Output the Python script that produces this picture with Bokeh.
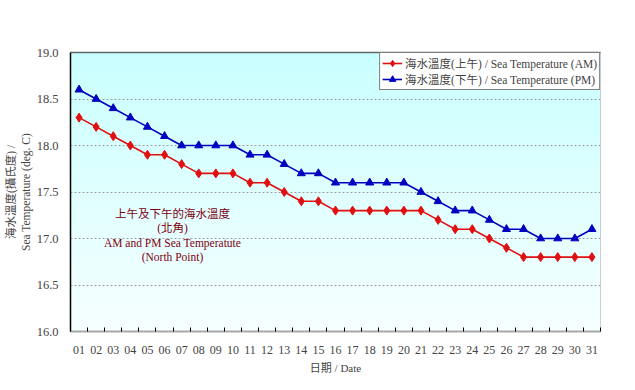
import numpy as np
from bokeh.plotting import figure
from bokeh.models import FixedTicker, Range1d, Legend, LegendItem, Label, LinearAxis
from bokeh.embed import file_html
from bokeh.resources import INLINE

days = ["01","02","03","04","05","06","07","08","09","10","11","12","13","14","15","16",
        "17","18","19","20","21","22","23","24","25","26","27","28","29","30","31"]
am_temp = [18.3, 18.2, 18.1, 18.0, 17.9, 17.9, 17.8, 17.7, 17.7, 17.7, 17.6, 17.6, 17.5, 17.4, 17.4, 17.3,
           17.3, 17.3, 17.3, 17.3, 17.3, 17.2, 17.1, 17.1, 17.0, 16.9, 16.8, 16.8, 16.8, 16.8, 16.8]
pm_temp = [18.6, 18.5, 18.4, 18.3, 18.2, 18.1, 18.0, 18.0, 18.0, 18.0, 17.9, 17.9, 17.8, 17.7, 17.7, 17.6,
           17.6, 17.6, 17.6, 17.6, 17.5, 17.4, 17.3, 17.3, 17.2, 17.1, 17.1, 17.0, 17.0, 17.0, 17.1]
y_ticks = [16.0, 16.5, 17.0, 17.5, 18.0, 18.5, 19.0]

x = list(range(1, len(days) + 1))
SERIF = "Liberation Serif, Noto Sans CJK TC, serif"

p = figure(width=619, height=382, output_backend="svg", toolbar_location=None,
           x_range=Range1d(0.5, len(days) + 0.5), y_range=Range1d(16.0, 19.0),
           min_border_left=70, min_border_right=19, min_border_top=52, min_border_bottom=51)
p.background_fill_color = "white"
p.border_fill_color = "white"
p.outline_line_color = "#c0c0c0"

# vertical gradient background
n = 64
grad = np.zeros((n, 1), dtype=np.uint32)
view = grad.view(dtype=np.uint8).reshape((n, 1, 4))
for i in range(n):
    t = i / (n - 1)  # 0 bottom -> 1 top
    view[i, 0, 0] = int(246 - 44 * t)
    view[i, 0, 1] = 255
    view[i, 0, 2] = 255
    view[i, 0, 3] = 255
p.image_rgba(image=[grad], x=0.5, y=16.0, dw=len(days), dh=3.0, level="image")

p.xgrid.grid_line_color = None
p.ygrid.grid_line_color = "#a0a0a0"
p.ygrid.grid_line_dash = "2 2"
p.ygrid.grid_line_width = 1

p.xaxis.ticker = FixedTicker(ticks=x, minor_ticks=[i + 0.5 for i in range(0, len(days) + 1)])
p.xaxis.major_label_overrides = {i: d for i, d in zip(x, days)}
p.xaxis.major_tick_line_color = None
p.xaxis.minor_tick_in = 4
p.xaxis.minor_tick_out = 0
p.xaxis.minor_tick_line_color = "black"
p.xaxis.axis_line_color = "#a8a8a8"
p.xaxis.axis_line_width = 2
p.xaxis.major_label_text_font = SERIF
p.xaxis.major_label_text_font_size = "12px"
p.xaxis.major_label_standoff = 8
p.xaxis.axis_label = "日期 / Date"
p.xaxis.axis_label_text_font = SERIF
p.xaxis.axis_label_text_font_style = "normal"
p.xaxis.axis_label_text_font_size = "11px"
p.xaxis.axis_label_standoff = 5

p.yaxis.ticker = FixedTicker(ticks=y_ticks)
p.yaxis.major_label_overrides = {v: f"{v:.1f}" for v in y_ticks}
p.yaxis.minor_tick_line_color = None
p.yaxis.major_tick_line_color = None
p.yaxis.major_tick_in = 0
p.yaxis.major_tick_out = 0
p.yaxis.axis_line_color = "black"
p.yaxis.axis_line_width = 1.5
p.yaxis.major_label_text_font = SERIF
p.yaxis.major_label_text_font_size = "12.5px"
p.yaxis.major_label_standoff = 12
p.yaxis.axis_label = "海水溫度(攝氏度) /\nSea Temperature (deg. C)"
p.yaxis.axis_label_text_font = SERIF
p.yaxis.axis_label_text_font_style = "normal"
p.yaxis.axis_label_text_font_size = "11.5px"
p.yaxis.axis_label_standoff = 2

top_axis = LinearAxis(ticker=FixedTicker(ticks=[]), axis_line_color="#606868", axis_line_width=1.5,
                      major_tick_line_color=None, minor_tick_line_color=None,
                      major_label_text_font_size="0px")
p.add_layout(top_axis, "above")

am_line = p.line(x, am_temp, line_color="#e01010", line_width=1.6)
am_mark = p.scatter(x, am_temp, marker="diamond", size=9, fill_color="#e01010", line_color="#e01010")
pm_line = p.line(x, pm_temp, line_color="#0000c0", line_width=1.6)
pm_mark = p.scatter(x, pm_temp, marker="triangle", size=8, fill_color="#0000c0", line_color="#0000c0")

legend = Legend(items=[
    LegendItem(label="海水溫度(上午) / Sea Temperature (AM)", renderers=[am_line, am_mark]),
    LegendItem(label="海水溫度(下午) / Sea Temperature (PM)", renderers=[pm_line, pm_mark]),
], location="top_right")
legend.label_text_font = SERIF
legend.label_text_font_size = "11.5px"
legend.border_line_color = "black"
legend.border_line_width = 1
legend.background_fill_color = "white"
legend.background_fill_alpha = 1.0
legend.margin = 0
legend.padding = 2
legend.spacing = 0
legend.glyph_width = 20
legend.glyph_height = 16
legend.label_height = 16
legend.label_standoff = 3
p.add_layout(legend)

notes = ["上午及下午的海水溫度", "(北角)", "AM and PM Sea Temperatute", "(North Point)"]
for i, t in enumerate(notes):
    p.add_layout(Label(x=102, y=118 - i * 14.5, x_units="screen", y_units="screen", text=t,
                       text_align="center", text_baseline="middle", text_color="#800010",
                       text_font=SERIF, text_font_size="11.5px"))

open("out.html", "w").write(file_html(p, INLINE))
